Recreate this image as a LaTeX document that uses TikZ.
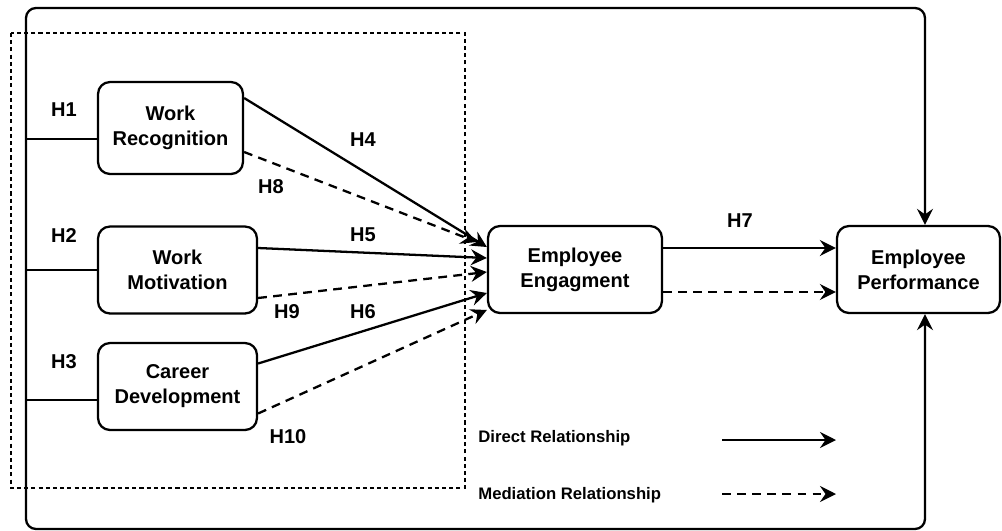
\documentclass[tikz,border=0pt]{standalone}
\usepackage{fontspec}
\setmainfont{Liberation Sans}
\usetikzlibrary{arrows.meta}

\begin{document}
\begin{tikzpicture}[x=0.02cm,y=-0.02cm,font=\bfseries\fontsize{11.4}{14.2}\selectfont,
    >={Stealth[length=0.32cm,width=0.32cm,inset=0.11cm]}]
    \tikzset{
        var/.style={
            draw, line width=1.3pt, rounded corners=0.24cm, align=center,
            minimum height=1.74cm, inner sep=2pt
        },
        link/.style={line width=1.3pt, ->},
        medlink/.style={link, dash pattern=on 5pt off 3.6pt},
        plain/.style={line width=1.3pt},
        groupbox/.style={line width=0.6pt, dash pattern=on 2.3pt off 1.8pt},
        legend/.style={anchor=west, inner sep=0pt, font=\bfseries\fontsize{9.5}{11}\selectfont}
    }
    \useasboundingbox (0,0) rectangle (1002,531);

    \coordinate (ftl) at (26,8);
    \coordinate (ftr) at (925,8);
    \coordinate (fbl) at (26,529);
    \coordinate (fbr) at (925,529);
    \coordinate (wrin) at (26,139);
    \coordinate (wmin) at (26,270);
    \coordinate (cdin) at (26,400);

    \node[var, minimum width=2.9cm, minimum height=1.84cm] (wr) at (170.5,128) {Work\\Recognition};
    \node[var, minimum width=3.18cm] (wm) at (177.5,270) {Work\\Motivation};
    \node[var, minimum width=3.18cm] (cd) at (177.5,386.5) {Career\\Development};
    \node[var, minimum width=3.48cm] (ee) at (575,269.5) {Employee\\Engagment};
    \node[var, minimum width=3.26cm] (ep) at (918.5,269.5) {Employee\\Performance};

    \draw[groupbox] (11,33) rectangle (465,488);
    \draw[plain, <->, rounded corners=0.2cm] (ep.south -| fbr) -- (fbr) -- (fbl) -- (ftl) -- (ftr) -- (ep.north -| ftr);

    \draw[plain] (wrin) -- (wr.west |- wrin);
    \draw[plain] (wmin) -- (wm.west |- wmin);
    \draw[plain] (cdin) -- (cd.west |- cdin);

    \draw[link] ([yshift=0.6cm]wr.east) -- ([yshift=0.45cm]ee.west);
    \draw[medlink] ([yshift=-0.48cm]wr.east) -- ([xshift=-0.2cm,yshift=0.55cm]ee.west);
    \draw[link] ([yshift=0.44cm]wm.east) -- ([yshift=0.23cm]ee.west);
    \draw[medlink] ([yshift=-0.56cm]wm.east) -- ([yshift=-0.05cm]ee.west);
    \draw[link] ([yshift=0.46cm]cd.east) -- ([yshift=-0.47cm]ee.west);
    \draw[medlink] ([yshift=-0.54cm]cd.east) -- ([yshift=-0.81cm]ee.west);
    \draw[link] ([yshift=0.43cm]ee.east) -- ([yshift=0.43cm]ep.west);
    \draw[medlink] ([yshift=-0.45cm]ee.east) -- ([yshift=-0.45cm]ep.west);

    \node (h1) at (64,110) {H1};
    \node (h2) at (64,236) {H2};
    \node (h3) at (64,362) {H3};
    \node (h4) at (363,140) {H4};
    \node (h8) at (271,187) {H8};
    \node (h5) at (363,235) {H5};
    \node (h9) at (287,312) {H9};
    \node (h6) at (363,312) {H6};
    \node (h10) at (288,437) {H10};
    \node (h7) at (740,221) {H7};

    \node[legend] (dtxt) at (478,438) {Direct Relationship};
    \node[legend] (mtxt) at (478,495) {Mediation Relationship};
    \coordinate (dls) at (722,440);
    \coordinate (dle) at (836,440);
    \coordinate (mls) at (722,494);
    \coordinate (mle) at (836,494);
    \draw[link] (dls) -- (dle);
    \draw[medlink] (mls) -- (mle);
\end{tikzpicture}
\end{document}
